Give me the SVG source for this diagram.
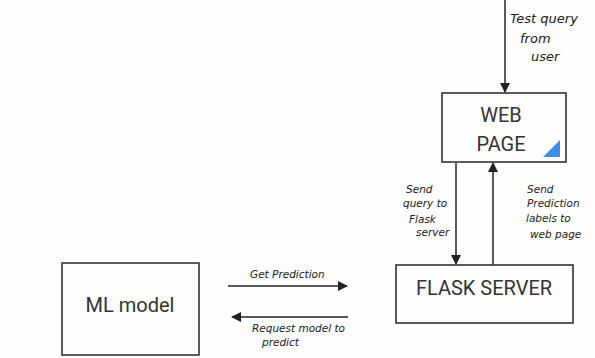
<svg xmlns="http://www.w3.org/2000/svg" width="595" height="358" viewBox="0 0 595 358">
<defs>
<style>
.box{fill:none;stroke:#333;stroke-width:1.6}
.lbl{font-family:Roboto,"Liberation Sans",sans-serif;font-size:20px;fill:#333;text-anchor:middle}
.hand{font-family:"DejaVu Sans",sans-serif;font-style:italic;font-size:10.5px;fill:#222}
.big{font-size:13px}
.conn{stroke:#222;stroke-width:1.5;fill:none}
</style>
<marker id="ah" viewBox="0 0 10 10" refX="9" refY="5" markerWidth="10" markerHeight="10" markerUnits="userSpaceOnUse" orient="auto">
<path d="M0,0 L10,5 L0,10 Z" fill="#222"/>
</marker>
</defs>
<rect width="595" height="358" fill="#fdfdfd"/>
<g id="connectors">
<line class="conn" x1="505" y1="0" x2="505" y2="92" marker-end="url(#ah)"/>
<line class="conn" x1="456" y1="163" x2="456" y2="264" marker-end="url(#ah)"/>
<line class="conn" x1="493" y1="265" x2="493" y2="163" marker-end="url(#ah)"/>
<line class="conn" x1="228" y1="286" x2="347" y2="286" marker-end="url(#ah)"/>
<line class="conn" x1="348" y1="317" x2="232" y2="317" marker-end="url(#ah)"/>
<text class="hand big" x="510" y="23">Test query</text>
<text class="hand big" x="520" y="43">from</text>
<text class="hand big" x="531" y="61">user</text>
<text class="hand" x="406" y="193">Send</text>
<text class="hand" x="403" y="207">query to</text>
<text class="hand" x="409" y="223">Flask</text>
<text class="hand" x="416" y="236">server</text>
<text class="hand" x="527" y="193">Send</text>
<text class="hand" x="527" y="207">Prediction</text>
<text class="hand" x="526" y="222">labels to</text>
<text class="hand" x="530" y="238">web page</text>
<text class="hand" x="250" y="278">Get Prediction</text>
<text class="hand" x="252" y="332">Request model to</text>
<text class="hand" x="262" y="346">predict</text>
</g>
<g id="webpage">
<rect class="box" x="442" y="93" width="124" height="69"/>
<text class="lbl" x="501" y="122">WEB</text>
<text class="lbl" x="501" y="151">PAGE</text>
<polygon points="543,157 560,157 560,140" fill="#3d8ee8"/>
</g>
<g id="flask">
<rect class="box" x="396" y="265" width="177" height="58"/>
<text class="lbl" x="484" y="295">FLASK SERVER</text>
</g>
<g id="mlmodel">
<rect class="box" x="62" y="263" width="137" height="92"/>
<text class="lbl" x="130" y="312">ML model</text>
</g>
</svg>
